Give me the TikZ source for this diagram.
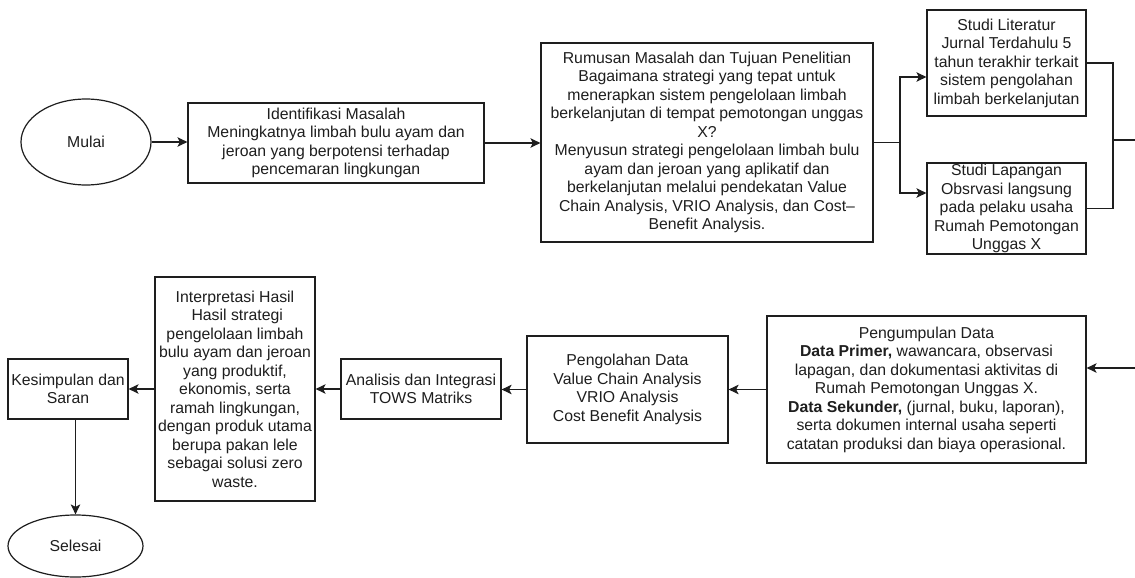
\documentclass[tikz,border=0pt]{standalone}
\usepackage{fontspec}
\setmainfont{Liberation Sans}
\usetikzlibrary{arrows.meta,shapes.geometric}
\definecolor{ink}{HTML}{1E1E1E}
\tikzset{
  box/.style={draw=ink, line width=1.2pt, inner sep=0pt, align=center, text=ink,
    font=\fontsize{15.8}{18.5}\selectfont},
  oval/.style={box, ellipse},
  conn/.style={draw=ink, line width=1.2pt},
  arr/.style={conn, -{Stealth[length=10pt,width=9.5pt,inset=2.5pt]}},
}
\begin{document}
\begin{tikzpicture}[x=1pt,y=-1pt]
\useasboundingbox (0,0) rectangle (1135,578);
\fill[white] (0,0) rectangle (1135,578);

\node[oval, minimum width=130, minimum height=86] (mulai) at (86,142) {Mulai};
\node[box, minimum width=296, minimum height=80] (idf) at (336,143)
  {Identifikasi Masalah\\Meningkatnya limbah bulu ayam dan\\jeroan yang berpotensi terhadap\\pencemaran lingkungan};
\node[box, minimum width=332, minimum height=199] (rum) at (707,142.5)
  {Rumusan Masalah dan Tujuan Penelitian\\Bagaimana strategi yang tepat untuk\\menerapkan sistem pengelolaan limbah\\berkelanjutan di tempat pemotongan unggas\\X?\\Menyusun strategi pengelolaan limbah bulu\\ayam dan jeroan yang aplikatif dan\\berkelanjutan melalui pendekatan Value\\Chain Analysis, VRIO Analysis, dan Cost--\\Benefit Analysis.};
\node[box, minimum width=159, minimum height=106] (lit) at (1006.5,63)
  {Studi Literatur\\Jurnal Terdahulu 5\\tahun terakhir terkait\\sistem pengolahan\\limbah berkelanjutan};
\node[box, minimum width=159, minimum height=91] (lap) at (1006.5,208.5)
  {Studi Lapangan\\Obsrvasi langsung\\pada pelaku usaha\\Rumah Pemotongan\\Unggas X};
\node[box, minimum width=319, minimum height=147] (pg) at (926.5,389.5)
  {Pengumpulan Data\\\textbf{Data Primer,} wawancara, observasi\\lapagan, dan dokumentasi aktivitas di\\Rumah Pemotongan Unggas X.\\\textbf{Data Sekunder,} (jurnal, buku, laporan),\\serta dokumen internal usaha seperti\\catatan produksi dan biaya operasional.};
\node[box, minimum width=201, minimum height=107] (olah) at (627.5,389.5)
  {Pengolahan Data\\Value Chain Analysis\\VRIO Analysis\\Cost Benefit Analysis};
\node[box, minimum width=160, minimum height=60] (ana) at (421,389)
  {Analisis dan Integrasi\\TOWS Matriks};
\node[box, minimum width=160, minimum height=224] (intp) at (235,389)
  {Interpretasi Hasil\\\hspace*{4.4pt}Hasil strategi\\pengelolaan limbah\\bulu ayam dan jeroan\\yang produktif,\\ekonomis, serta\\ramah lingkungan,\\dengan produk utama\\berupa pakan lele\\sebagai solusi zero\\waste.};
\node[box, minimum width=120, minimum height=60] (kes) at (68,389)
  {Kesimpulan dan\\Saran};
\node[oval, minimum width=135, minimum height=62] (sel) at (75.5,546) {Selesai};

\coordinate (fk) at (900,142.5);
\coordinate (mg) at (1113,140);
\coordinate (outR) at (1135,140);
\coordinate (inR) at (1135,368);

\draw[arr] (mulai.east) -- (mulai.east -| idf.west);
\draw[arr] (idf.east) -- (idf.east -| rum.west);
\draw[conn] (rum.east) -- (fk);
\draw[arr] (fk) |- (lit.west |- 0,77);
\draw[arr] (fk) |- (lap.west |- 0,193);
\draw[conn] (lit.east) -| (mg) |- (lap.east);
\draw[conn] (mg) -- (outR);
\draw[arr] (inR) -- (inR -| pg.east);
\draw[arr] (pg.west) -- (olah.east);
\draw[arr] (olah.west) -- (olah.west -| ana.east);
\draw[arr] (ana.west) -- (ana.west -| intp.east);
\draw[arr] (intp.west) -- (intp.west -| kes.east);
\draw[arr] (sel.north |- kes.south) -- (sel.north);
\end{tikzpicture}
\end{document}
